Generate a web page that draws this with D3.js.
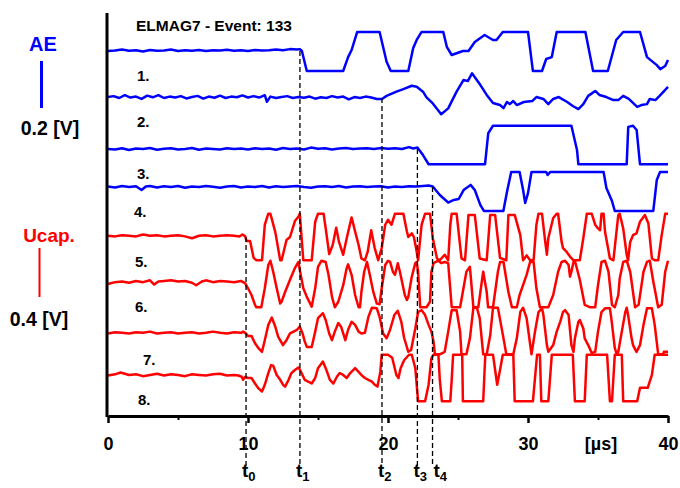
<!DOCTYPE html>
<html>
<head>
<meta charset="utf-8">
<script src="https://cdn.jsdelivr.net/npm/d3@7"></script>
<style>
body { margin: 0; background: #fff; }
text { font-family: "Liberation Sans", Arial, sans-serif; font-weight: bold; }
</style>
</head>
<body>
<svg id="chart" width="680" height="488"></svg>
<script>
var chartTitle = "ELMAG7 - Event: 133";
var timeTicks = [0, 10, 20, 30, 40];
var minorTicks = [5, 15, 25, 35];
var traceNames = ["1.", "2.", "3.", "4.", "5.", "6.", "7.", "8."];
var markerNames = ["0", "1", "2", "3", "4"];
var markerTimes = [9.86, 13.71, 19.57, 22.1, 23.18];
var markerTrace = [4, 0, 1, 2, 3];

// AE channels, [time in us, volts]
var ae1 = [[0,0],[0.5,0.002],[1,0.006],[1.5,0.001],[2,0.003],[2.5,-0.002],[3,0.004],[3.5,0.001],[4,0.002],[4.5,0.006],[5,0],[5.5,0.003],[6,0.001],[6.5,0.004],[7,0],[7.5,0.003],[8,0.002],[8.5,0.005],[9,0.001],[9.5,0.003],[10,0],[10.5,0.004],[11,0.002],[11.5,0.003],[12,0.006],[12.5,0.003],[13,0.008],[13.5,0.006],[13.7,0.008],[13.85,0],[14.2,-0.085],[16.8,-0.085],[17.15,-0.026],[17.4,0.004],[17.8,0.081],[19.4,0.081],[19.9,-0.046],[20.2,-0.085],[21.45,-0.085],[21.8,0.013],[22.05,0.047],[22.4,0.081],[23.95,0.081],[24.2,0.018],[24.55,-0.017],[25.35,0],[25.75,0],[26.2,0.038],[26.9,0.068],[27.5,0.047],[27.75,0.047],[28.2,0.081],[30,0.081],[30.35,-0.085],[31,-0.085],[31.3,-0.034],[31.7,-0.026],[32.05,0.081],[34.1,0.081],[34.65,-0.085],[35.7,-0.085],[36.3,0.047],[36.8,0.081],[38,0.081],[38.5,-0.026],[39.2,-0.06],[39.45,-0.077],[39.8,-0.064],[40,-0.038]];
var ae2 = [[0,0.004],[0.4,0.008],[0.8,0],[1.2,0.012],[1.6,0.002],[2,0.006],[2.4,-0.004],[2.8,0.01],[3.2,0.003],[3.6,0.012],[4,0],[4.4,0.006],[4.8,0.002],[5.2,0.008],[5.6,-0.002],[6,0.004],[6.4,0.009],[6.8,-0.003],[7.2,0.006],[7.6,0.001],[8,0.01],[8.4,0],[8.8,0.006],[9.2,0.003],[9.6,0.011],[10,0.002],[10.4,0.008],[10.8,0.002],[11.2,0.012],[11.35,-0.016],[11.6,0.006],[12,0],[12.4,0.004],[12.8,0.008],[13.2,0],[13.6,0.004],[14,0.001],[14.4,0.006],[14.8,-0.003],[15.2,0.003],[15.6,0],[16,0.008],[16.4,0.002],[16.8,0.006],[17.2,-0.006],[17.6,0.004],[18,0],[18.4,0.006],[18.8,0.002],[19.2,-0.004],[19.57,-0.004],[19.9,0.009],[20.6,0.027],[21.1,0.038],[21.7,0.052],[22.05,0.048],[22.5,0.027],[22.75,0.003],[23.2,-0.023],[23.8,-0.069],[24.3,-0.044],[24.9,0.027],[25.4,0.077],[25.7,0.072],[26,0.105],[26.6,0.055],[27.05,0.013],[27.5,-0.021],[28,-0.03],[28.25,-0.043],[28.5,-0.017],[28.7,-0.026],[28.95,-0.013],[29.2,-0.03],[29.7,-0.017],[30.3,-0.013],[30.6,0.004],[31.1,-0.004],[31.45,-0.026],[31.8,-0.004],[32.2,0.004],[32.8,-0.017],[33.2,-0.034],[33.6,-0.047],[33.95,-0.026],[34.3,0.009],[34.8,0.03],[35.1,0.013],[35.6,0.004],[36.1,-0.009],[36.45,-0.009],[36.8,0.009],[37.2,-0.004],[37.8,-0.038],[38.1,-0.03],[38.5,-0.026],[38.7,-0.004],[39.1,-0.009],[39.4,0.009],[40,0.047]];
var ae3 = [[0,0],[0.5,-0.002],[1,0.003],[1.5,-0.004],[2,0.002],[2.5,0],[3,0.004],[3.5,-0.003],[4,0.001],[4.5,0.003],[5,-0.002],[5.5,0],[6,0.004],[6.5,-0.003],[7,0.002],[7.5,0],[8,-0.002],[8.5,0.003],[9,0],[9.5,0.002],[10,-0.002],[10.5,0.003],[11,0],[11.5,0.002],[12,-0.003],[12.5,0.004],[13,0],[13.5,0.002],[14,-0.002],[14.5,0.006],[15,0.001],[15.5,0.003],[16,-0.002],[16.5,0.002],[17,0.004],[17.5,0],[18,0.002],[18.5,0.003],[19,0],[19.5,0.004],[20,0.001],[20.5,0.003],[21,0],[21.5,0.008],[21.8,0.002],[22.1,0.006],[22.5,-0.026],[22.9,-0.065],[26.93,-0.065],[27.16,0.067],[27.5,0.099],[33.1,0.099],[33.5,-0.004],[33.6,-0.065],[37.05,-0.065],[37.16,0.094],[37.5,0.099],[37.76,0.081],[38,-0.065],[40,-0.065]];
var ae4 = [[0,0.002],[0.5,-0.002],[1,0.004],[1.5,0],[2,0.003],[2.4,-0.013],[2.7,0.002],[3,0.004],[3.5,-0.002],[4,0.003],[4.5,0],[5,0.004],[5.5,-0.003],[6,0.002],[6.5,0],[7,0.004],[7.5,0.001],[8,-0.003],[8.5,0.002],[9,0.004],[9.5,-0.002],[10,0.002],[10.5,0],[11,0.004],[11.5,-0.002],[12,0.003],[12.5,0],[13,0.002],[13.5,0.004],[14,0],[14.5,-0.003],[15,0.002],[15.5,0.003],[16,0],[16.5,0.004],[17,-0.002],[17.5,0.002],[18,0.003],[18.5,0],[19,0.002],[19.5,0.003],[20,-0.002],[20.5,0.002],[21,0],[21.5,0.003],[22,0.002],[22.5,0.004],[22.9,0.006],[23.2,0.002],[23.7,-0.034],[24.3,-0.066],[24.7,-0.055],[25.05,-0.051],[25.4,-0.013],[25.9,0.009],[26.2,-0.013],[26.6,-0.077],[26.85,-0.102],[28.24,-0.102],[28.5,-0.02],[28.8,0.064],[29.4,0.064],[29.65,-0.013],[29.8,-0.068],[30,-0.026],[30.25,0.064],[31.3,0.064],[31.4,0.051],[31.6,0.064],[35.4,0.064],[35.6,-0.004],[36,-0.06],[36.2,-0.102],[38.95,-0.102],[39.2,0.03],[39.43,0.064],[40,0.064]];

// Ucap channels, [time in us, volts]
var ucap5 = [[0,0.01],[0.5,0.005],[1,0.015],[1.5,0.01],[2,0.005],[2.5,0.02],[3,0.01],[3.5,0.015],[4,0.005],[4.5,0.01],[5,0.015],[5.5,0.005],[6,-0.01],[6.5,0.01],[7,0.015],[7.5,0.005],[8,0.01],[8.5,0.015],[9,0.01],[9.4,0.005],[9.6,0.02],[9.8,0.005],[9.9,-0.033],[10.15,-0.033],[10.4,-0.17],[10.6,-0.19],[11,-0.19],[11.2,0.1],[11.45,0.19],[11.6,0.19],[11.95,0.04],[12.3,-0.19],[12.4,-0.19],[12.75,-0.025],[13,0],[13.35,0.13],[13.6,0.165],[13.7,0.19],[13.95,-0.19],[14.55,-0.19],[14.8,0.125],[15,0.19],[15.4,0.19],[15.55,0.07],[15.8,-0.14],[16.05,-0.065],[16.3,0.075],[16.5,-0.04],[16.8,-0.145],[17.05,-0.01],[17.4,0.16],[17.65,0.045],[17.9,-0.065],[18.1,-0.175],[18.35,-0.19],[18.55,-0.12],[18.8,0.055],[19.05,-0.09],[19.3,-0.19],[19.55,-0.09],[19.8,0.1],[20,0.14],[20.25,0.1],[20.5,0.19],[21.1,0.19],[21.35,0.045],[21.45,0],[21.7,0.03],[21.85,0],[22.05,-0.12],[22.15,-0.19],[22.4,0.1],[22.65,0.19],[23,0.19],[23.2,-0.01],[23.3,-0.065],[23.5,-0.175],[23.7,-0.19],[24.05,-0.145],[24.3,-0.19],[24.45,0.1],[24.55,0.19],[24.9,0.19],[25.25,-0.175],[25.5,-0.19],[25.75,0.18],[26.2,0.18],[26.55,-0.175],[27.05,-0.19],[27.3,0.18],[27.65,0.18],[28,-0.17],[28.45,-0.19],[28.6,0.18],[29.05,0.18],[29.45,0.015],[29.65,-0.19],[29.9,-0.15],[30.15,-0.19],[30.4,-0.19],[30.6,0.1],[30.75,0.19],[31,0.19],[31.2,-0.01],[31.35,-0.145],[31.45,-0.01],[31.8,0.155],[32.05,0.19],[32.15,0.19],[32.4,-0.04],[32.5,-0.09],[32.75,-0.12],[33,-0.16],[33.25,-0.19],[33.7,-0.19],[33.95,-0.01],[34.2,0.19],[34.55,0.19],[34.8,0.1],[35,0.07],[35.15,0.055],[35.25,0.19],[35.4,0.19],[35.5,0.045],[35.85,-0.175],[36.1,-0.19],[36.45,0.18],[36.55,0.19],[36.8,0.07],[37.05,-0.145],[37.15,-0.19],[37.3,-0.04],[37.5,0.015],[37.75,0.03],[38,0.125],[38.35,0.18],[38.6,0.11],[38.85,-0.175],[39.05,-0.19],[39.3,-0.19],[39.55,0.015],[39.8,0.19],[40,0.19]];
var ucap6 = [[0,0],[0.5,0.015],[1,0.02],[1.5,0.01],[2,0.025],[2.5,0.015],[3,0.03],[3.3,-0.005],[3.6,0.02],[4,0.025],[4.5,0.03],[5,0.02],[5.5,0.025],[6,0.01],[6.3,-0.01],[6.7,0.02],[7,0.03],[7.5,0.015],[8,0.025],[8.5,0.02],[9,0.015],[9.5,0.025],[9.8,0.005],[10,-0.035],[10.25,-0.09],[10.5,-0.17],[10.6,-0.19],[10.95,-0.19],[11.2,-0.035],[11.45,0.155],[11.6,0.19],[11.8,0.1],[12.05,-0.035],[12.3,-0.16],[12.4,-0.145],[12.65,-0.065],[13,0.035],[13.35,0.13],[13.6,0.18],[13.7,0.115],[13.95,-0.035],[14.2,-0.105],[14.55,-0.185],[14.8,-0.035],[15,0.14],[15.25,0.19],[15.55,0.18],[15.75,0.075],[16,-0.105],[16.2,-0.19],[16.45,-0.145],[16.8,-0.01],[17.05,0.13],[17.15,0.16],[17.4,0.075],[17.65,-0.09],[17.9,-0.19],[18,-0.19],[18.1,-0.065],[18.3,0.1],[18.5,0.18],[18.7,0.075],[18.95,-0.065],[19.2,-0.16],[19.4,-0.165],[19.55,-0.035],[19.8,0.155],[20,0.19],[20.15,0.18],[20.35,0.1],[20.5,0.075],[20.7,0.17],[20.85,0.1],[21.2,-0.09],[21.35,-0.13],[21.45,-0.105],[21.7,0.06],[21.95,0.17],[22.05,0.18],[22.15,0.1],[22.3,-0.19],[22.75,-0.19],[23,-0.145],[23.1,0.1],[23.25,0.17],[23.6,0.19],[23.8,0.17],[24.05,0.18],[24.3,0.17],[24.55,-0.19],[25.15,-0.19],[25.6,0.1],[25.85,0.14],[26.1,-0.19],[26.45,-0.19],[26.7,0.02],[26.8,0.1],[27.05,-0.065],[27.15,-0.19],[27.5,-0.19],[27.85,0.1],[28,0.18],[28.25,0.18],[28.6,-0.065],[28.85,-0.19],[29.2,-0.19],[29.4,-0.09],[29.9,0.075],[30.15,0.18],[30.4,0.18],[30.6,-0.035],[30.85,-0.19],[31.45,-0.19],[31.8,-0.09],[32.15,0.1],[32.4,0.18],[32.65,0.19],[32.9,0.155],[33,0.06],[33.1,0.1],[33.25,0.18],[33.35,0.19],[33.7,0.035],[34.05,-0.17],[34.45,-0.19],[34.8,-0.19],[35,-0.01],[35.25,0.18],[35.5,0.19],[35.75,0.1],[36,-0.17],[36.2,-0.19],[36.45,-0.09],[36.55,0.045],[36.8,0.18],[37.05,0.19],[37.3,0.1],[37.65,-0.19],[37.9,-0.17],[38.25,0.1],[38.5,0.18],[38.7,0.19],[38.95,0.02],[39.3,-0.19],[39.55,-0.17],[39.8,0.1],[40,0.19]];
var ucap7 = [[0,-0.02],[0.5,-0.01],[1,-0.015],[1.5,-0.02],[2,-0.01],[2.5,-0.015],[3,-0.005],[3.5,-0.02],[4,-0.015],[4.5,-0.01],[5,-0.02],[5.5,-0.015],[6,-0.01],[6.5,-0.02],[7,-0.015],[7.5,-0.005],[8,-0.015],[8.5,-0.02],[9,-0.01],[9.5,-0.015],[9.65,-0.005],[9.8,-0.015],[10,-0.04],[10.25,-0.04],[10.5,-0.1],[10.75,-0.14],[11,-0.17],[11.2,-0.075],[11.45,0.05],[11.7,0.11],[11.95,0.035],[12.15,-0.045],[12.5,-0.115],[12.75,-0.075],[13,-0.02],[13.25,-0.005],[13.5,0.01],[13.7,0.035],[13.9,-0.02],[14.05,-0.085],[14.2,-0.13],[14.55,-0.13],[14.8,-0.005],[15,0.105],[15.35,0.145],[15.55,0.09],[15.8,-0.02],[16,-0.075],[16.2,-0.005],[16.45,0.065],[16.65,0.035],[16.95,-0.075],[17.15,0.01],[17.4,0.075],[17.65,0.05],[17.9,-0.005],[18.1,-0.02],[18.35,-0.015],[18.6,0.115],[18.85,0.19],[19.2,0.185],[19.4,0.115],[19.65,-0.02],[19.9,-0.06],[20.15,0.01],[20.45,0.13],[20.7,0.165],[20.95,0.075],[21.15,-0.055],[21.45,-0.17],[21.65,-0.155],[21.95,0.02],[22.15,0.155],[22.4,0.17],[22.65,0.13],[22.9,0.05],[23.1,-0.005],[23.25,-0.085],[23.35,-0.19],[23.7,-0.19],[24.05,-0.17],[24.3,-0.005],[24.55,0.17],[24.9,0.17],[25.15,-0.005],[25.25,-0.19],[25.6,-0.19],[25.85,-0.06],[26.1,0.19],[26.35,0.19],[26.55,0.105],[26.8,-0.19],[27.05,-0.19],[27.3,-0.035],[27.5,0.19],[27.85,0.19],[28.25,-0.06],[28.45,-0.19],[28.95,-0.19],[29.2,-0.06],[29.45,0.155],[29.65,0.19],[29.9,0.105],[30.25,-0.19],[30.5,-0.005],[30.75,0.155],[31,0.185],[31.1,0.13],[31.35,-0.115],[31.45,-0.17],[31.55,-0.155],[31.8,-0.115],[32.05,-0.005],[32.3,0.075],[32.5,0.155],[32.65,0.17],[32.9,0.13],[33.1,-0.115],[33.25,-0.17],[33.35,-0.06],[33.6,0.075],[33.7,0.09],[33.95,0.02],[34.05,-0.06],[34.3,-0.115],[34.55,-0.18],[34.8,-0.17],[35,-0.005],[35.25,0.155],[35.5,0.185],[35.85,0.185],[35.95,0.105],[36.2,-0.14],[36.35,-0.19],[36.45,-0.17],[36.7,-0.005],[36.95,0.155],[37.05,0.19],[37.15,0.13],[37.4,-0.06],[37.5,-0.115],[37.75,-0.17],[38,-0.115],[38.25,0.05],[38.5,0.185],[38.85,0.185],[39.05,0.05],[39.3,-0.19],[39.65,-0.19],[39.7,-0.17],[40,-0.17]];
var ucap8 = [[0,0.02],[0.5,0.03],[0.9,0.045],[1.5,0.025],[2,0.03],[2.5,0.015],[3,0.025],[3.5,0.035],[4,0.02],[4.5,0.03],[5,0.025],[5.5,0.015],[6,0.03],[6.5,0.025],[7,0.02],[7.5,0.03],[8,0.035],[8.5,0.02],[9,0.025],[9.3,0.02],[9.55,0.01],[9.65,-0.015],[9.8,0.01],[10,0],[10.25,0],[10.5,-0.045],[10.75,-0.085],[11,-0.11],[11.2,-0.055],[11.45,0.04],[11.65,0.105],[11.8,0.1],[12.05,0.025],[12.3,-0.015],[12.5,-0.055],[12.65,-0.07],[12.9,-0.015],[13.1,0.04],[13.35,0.065],[13.6,0.085],[13.7,0.07],[13.95,0.01],[14.05,-0.015],[14.3,-0.03],[14.55,-0.045],[14.8,0],[15,0.08],[15.35,0.135],[15.55,0.08],[15.85,-0.015],[16.1,-0.045],[16.35,0.01],[16.55,0.04],[16.8,0.025],[17.05,0],[17.3,0.04],[17.65,0.08],[17.9,0.05],[18.1,0.025],[18.35,0],[18.6,-0.015],[18.85,-0.03],[19.05,-0.055],[19.25,-0.07],[19.45,0.05],[19.55,0.19],[20,0.19],[20.3,0.165],[20.6,0.025],[20.75,0],[20.9,0.08],[21.15,0.145],[21.5,0.19],[21.7,0.19],[21.95,0.08],[22.15,-0.19],[22.65,-0.19],[22.9,-0.055],[23.1,0.16],[23.25,0.19],[23.6,0.19],[23.7,-0.015],[23.85,-0.19],[24.45,-0.19],[24.55,-0.015],[24.65,0.19],[25.3,0.19],[25.35,-0.19],[26.8,-0.19],[26.95,0.19],[27.5,0.19],[27.8,-0.055],[28,0.065],[28.2,0.19],[28.95,0.19],[29.05,-0.19],[30.35,-0.19],[30.65,0.19],[30.85,0.19],[30.95,-0.19],[31.45,-0.19],[31.7,0.19],[33.2,0.19],[33.35,-0.19],[34.05,-0.19],[34.2,0.19],[35.65,0.19],[35.85,-0.19],[36,-0.19],[36.2,0.19],[36.7,0.19],[36.8,-0.19],[37.8,-0.19],[38,-0.08],[38.55,-0.08],[38.85,0.025],[39.05,0.19],[40,0.19]];

var traces = [ae1, ae2, ae3, ae4, ucap5, ucap6, ucap7, ucap8];
var traceBase = [51, 98, 149, 187, 237, 284, 331, 378];
var namePos = [[137, 81], [137, 127], [137, 179], [134, 217], [135, 267], [135, 312], [143, 365], [138, 405]];

var svg = d3.select("#chart");
svg.append("rect").attr("width", 680).attr("height", 488).attr("fill", "#fff");

var x = d3.scaleLinear().domain([0, 40]).range([108, 668]);
var aeGain = d3.scaleLinear().domain([0, 0.2]).range([0, 47]);
var ucapGain = d3.scaleLinear().domain([0, 0.4]).range([0, 49]);

function yOf(i, v) {
    return traceBase[i] - (i < 4 ? aeGain(v) : ucapGain(v));
}

traces.forEach(function(data, i) {
    var line = d3.line()
        .x(function(d) { return x(d[0]) })
        .y(function(d) { return yOf(i, d[1]) });
    svg.append("path")
        .datum(data)
        .attr("d", line)
        .attr("fill", "none")
        .attr("stroke", i < 4 ? "#0000ff" : "#ff0000")
        .attr("stroke-width", 2.5)
        .attr("stroke-linejoin", "round");
});

svg.selectAll(".tname").data(traceNames).enter().append("text")
    .attr("class", "tname")
    .attr("x", function(d, i) { return namePos[i][0] })
    .attr("y", function(d, i) { return namePos[i][1] })
    .attr("font-size", 15)
    .text(function(d) { return d });

// axes
svg.append("line").attr("x1", 107).attr("x2", 107).attr("y1", 13).attr("y2", 417)
    .attr("stroke", "#000").attr("stroke-width", 3);

var xAxis = svg.append("g").attr("transform", "translate(0,416)")
    .call(d3.axisBottom(x).tickValues(timeTicks).tickSize(7).tickSizeOuter(0).tickPadding(14).tickFormat(d3.format("d")));
xAxis.select(".domain").attr("stroke-width", 3);
xAxis.selectAll(".tick line").attr("stroke-width", 2.5);
xAxis.selectAll(".tick text").attr("font-size", 18).attr("font-family", "Liberation Sans, Arial, sans-serif").attr("font-weight", "bold").attr("fill", "#000");

var minorAxis = svg.append("g").attr("transform", "translate(0,416)")
    .call(d3.axisBottom(x).tickValues(minorTicks).tickSize(4).tickFormat(""));
minorAxis.select(".domain").remove();
minorAxis.selectAll(".tick line").attr("stroke-width", 2);

svg.append("text").attr("x", 601).attr("y", 450).attr("text-anchor", "middle")
    .attr("font-size", 18).text("[\u00b5s]");

svg.append("text").attr("x", 136).attr("y", 31).attr("font-size", 15.5).text(chartTitle);

// markers
markerTimes.forEach(function(t, i) {
    svg.append("line")
        .attr("x1", x(t)).attr("x2", x(t))
        .attr("y1", traceBase[markerTrace[i]]).attr("y2", 466)
        .attr("stroke", "#000").attr("stroke-width", 1.3)
        .attr("stroke-dasharray", "5,3");
    var lab = svg.append("text")
        .attr("x", x(t) + (i == 4 ? 1 : -4))
        .attr("y", 477)
        .attr("font-family", "Liberation Serif, Times New Roman, serif")
        .attr("font-weight", "normal")
        .attr("font-size", 19);
    lab.append("tspan").text("t");
    lab.append("tspan").attr("font-size", 13).attr("dy", 4).text(markerNames[i]);
});

// scale bars
svg.append("text").attr("x", 43).attr("y", 51).attr("text-anchor", "middle")
    .attr("font-size", 20).attr("fill", "#0000ff").text("AE");
svg.append("line").attr("x1", 41.5).attr("x2", 41.5)
    .attr("y1", 108).attr("y2", 108 - aeGain(0.2))
    .attr("stroke", "#0000ff").attr("stroke-width", 3);
svg.append("text").attr("x", 50).attr("y", 135).attr("text-anchor", "middle")
    .attr("font-size", 19.5).text("0.2 [V]");

svg.append("text").attr("x", 49).attr("y", 242).attr("text-anchor", "middle")
    .attr("font-size", 19).attr("fill", "#ff0000").text("Ucap.");
svg.append("line").attr("x1", 39.5).attr("x2", 39.5)
    .attr("y1", 297).attr("y2", 297 - ucapGain(0.4))
    .attr("stroke", "#ff0000").attr("stroke-width", 2);
svg.append("text").attr("x", 39).attr("y", 326).attr("text-anchor", "middle")
    .attr("font-size", 19.5).text("0.4 [V]");
</script>
</body>
</html>
